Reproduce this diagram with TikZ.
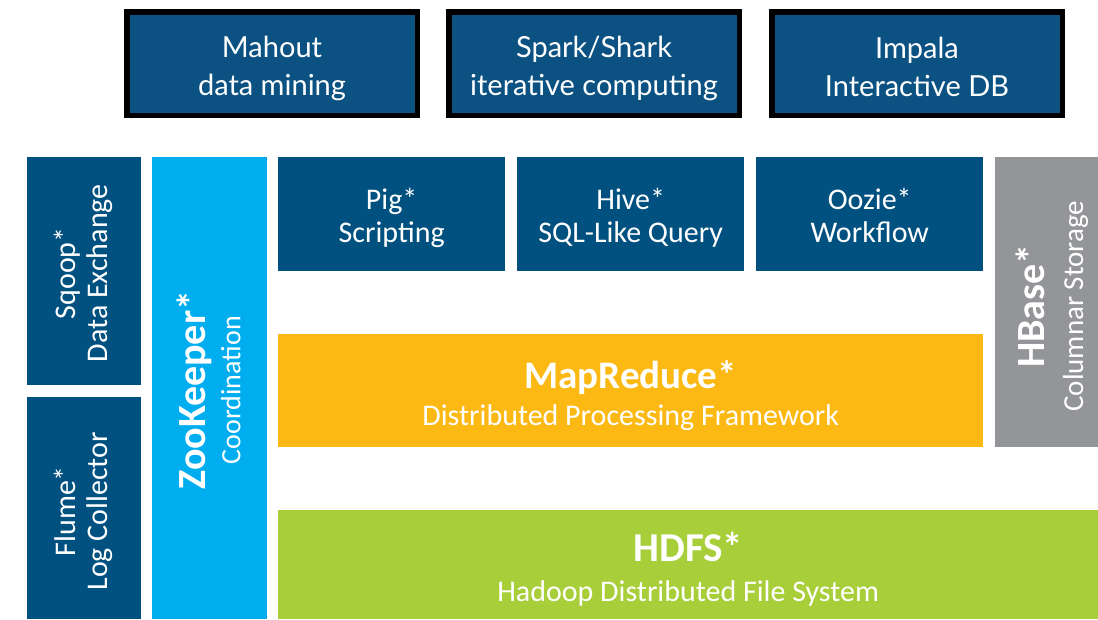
\documentclass[tikz,border=0pt]{standalone}
\usepackage{fontspec}
\setmainfont{Carlito}
\newfontfamily\topfont{Lato}
\usetikzlibrary{positioning}

\definecolor{topblue}{HTML}{0B5283}
\definecolor{darkblue}{HTML}{015180}
\definecolor{lightblue}{HTML}{00AEEF}
\definecolor{mryellow}{HTML}{FDB913}
\definecolor{hdfsgreen}{HTML}{A8CE3A}
\definecolor{hbasegray}{HTML}{939598}

\tikzset{
  topbox/.style={draw=black, line width=5.5pt, fill=topblue,
    minimum width=290.5pt, minimum height=103.5pt, inner sep=0pt},
  layer/.style={fill=#1, inner sep=0pt, anchor=north west},
  caption/.style={text=white, align=center, inner sep=0pt},
  toptext/.style={caption, font=\topfont\fontsize{29}{38}\selectfont},
}

\begin{document}
\begin{tikzpicture}[x=1pt,y=-1pt]
  \useasboundingbox (0,0) rectangle (1098,619);

  % extra tools on top
  \node[topbox] (mahout) at (272,63.5) {};
  \node[topbox] (spark)  at (594,63.5) {};
  \node[topbox] (impala) at (917,63.5) {};
  \node[toptext] at ([yshift=-5pt]mahout.center) {Mahout\\data mining};
  \node[toptext] at ([yshift=-5pt]spark.center) {Spark/Shark\\iterative computing};
  \node[toptext] at ([yshift=-3pt]impala.center) {Impala\\Interactive DB};

  % left column
  \node[layer=darkblue, minimum width=114pt, minimum height=228pt] (sqoop) at (27,157) {};
  \node[layer=darkblue, minimum width=114pt, minimum height=222pt] (flume) at (27,397) {};
  \node[layer=lightblue, minimum width=115pt, minimum height=462pt] (zookeeper) at (152,157) {};

  % upper row
  \node[layer=darkblue, minimum width=227pt, minimum height=114pt] (pig)   at (278,157) {};
  \node[layer=darkblue, minimum width=227pt, minimum height=114pt] (hive)  at (517,157) {};
  \node[layer=darkblue, minimum width=227pt, minimum height=114pt] (oozie) at (756,157) {};
  \node[layer=hbasegray, minimum width=103pt, minimum height=290pt] (hbase) at (995,157) {};

  % core
  \node[layer=mryellow, minimum width=705pt, minimum height=113pt] (mapreduce) at (278,334) {};
  \node[layer=hdfsgreen, minimum width=820pt, minimum height=109pt] (hdfs) at (278,510) {};

  % labels
  \node[caption, rotate=90, font=\fontsize{30}{32}\selectfont] at ([xshift=-1pt,yshift=-2pt]sqoop.center) {Sqoop*\\Data Exchange};
  \node[caption, rotate=90, font=\fontsize{30}{32}\selectfont] at ([xshift=-1pt,yshift=-3pt]flume.center) {Flume*\\Log Collector};
  \node[caption, rotate=90, font=\fontsize{28}{35}\selectfont] at ([xshift=-1pt,yshift=-2pt]zookeeper.center)
    {{\bfseries\fontsize{40}{35}\selectfont ZooKeeper*}\\Coordination};
  \node[caption, rotate=90, font=\fontsize{29}{39}\selectfont] at ([xshift=5pt,yshift=-4pt]hbase.center)
    {{\bfseries\fontsize{40}{39}\selectfont HBase*}\\Columnar Storage};

  \node[caption, font=\fontsize{30}{33}\selectfont] at ([yshift=-4pt]pig.center) {Pig*\\Scripting};
  \node[caption, font=\fontsize{30}{33}\selectfont] at ([yshift=-4pt]hive.center) {Hive*\\SQL-Like Query};
  \node[caption, font=\fontsize{30}{33}\selectfont] at ([yshift=-1pt]oozie.center) {Oozie*\\Workflow};

  \node[caption, font=\fontsize{30}{37}\selectfont] at ([yshift=-5pt]mapreduce.center)
    {{\bfseries\fontsize{39}{37}\selectfont MapReduce*}\\Distributed Processing Framework};
  \node[caption, font=\fontsize{30}{40}\selectfont] at ([yshift=-5pt]hdfs.center)
    {{\bfseries\fontsize{41}{40}\selectfont HDFS*}\\Hadoop Distributed File System};
\end{tikzpicture}
\end{document}
